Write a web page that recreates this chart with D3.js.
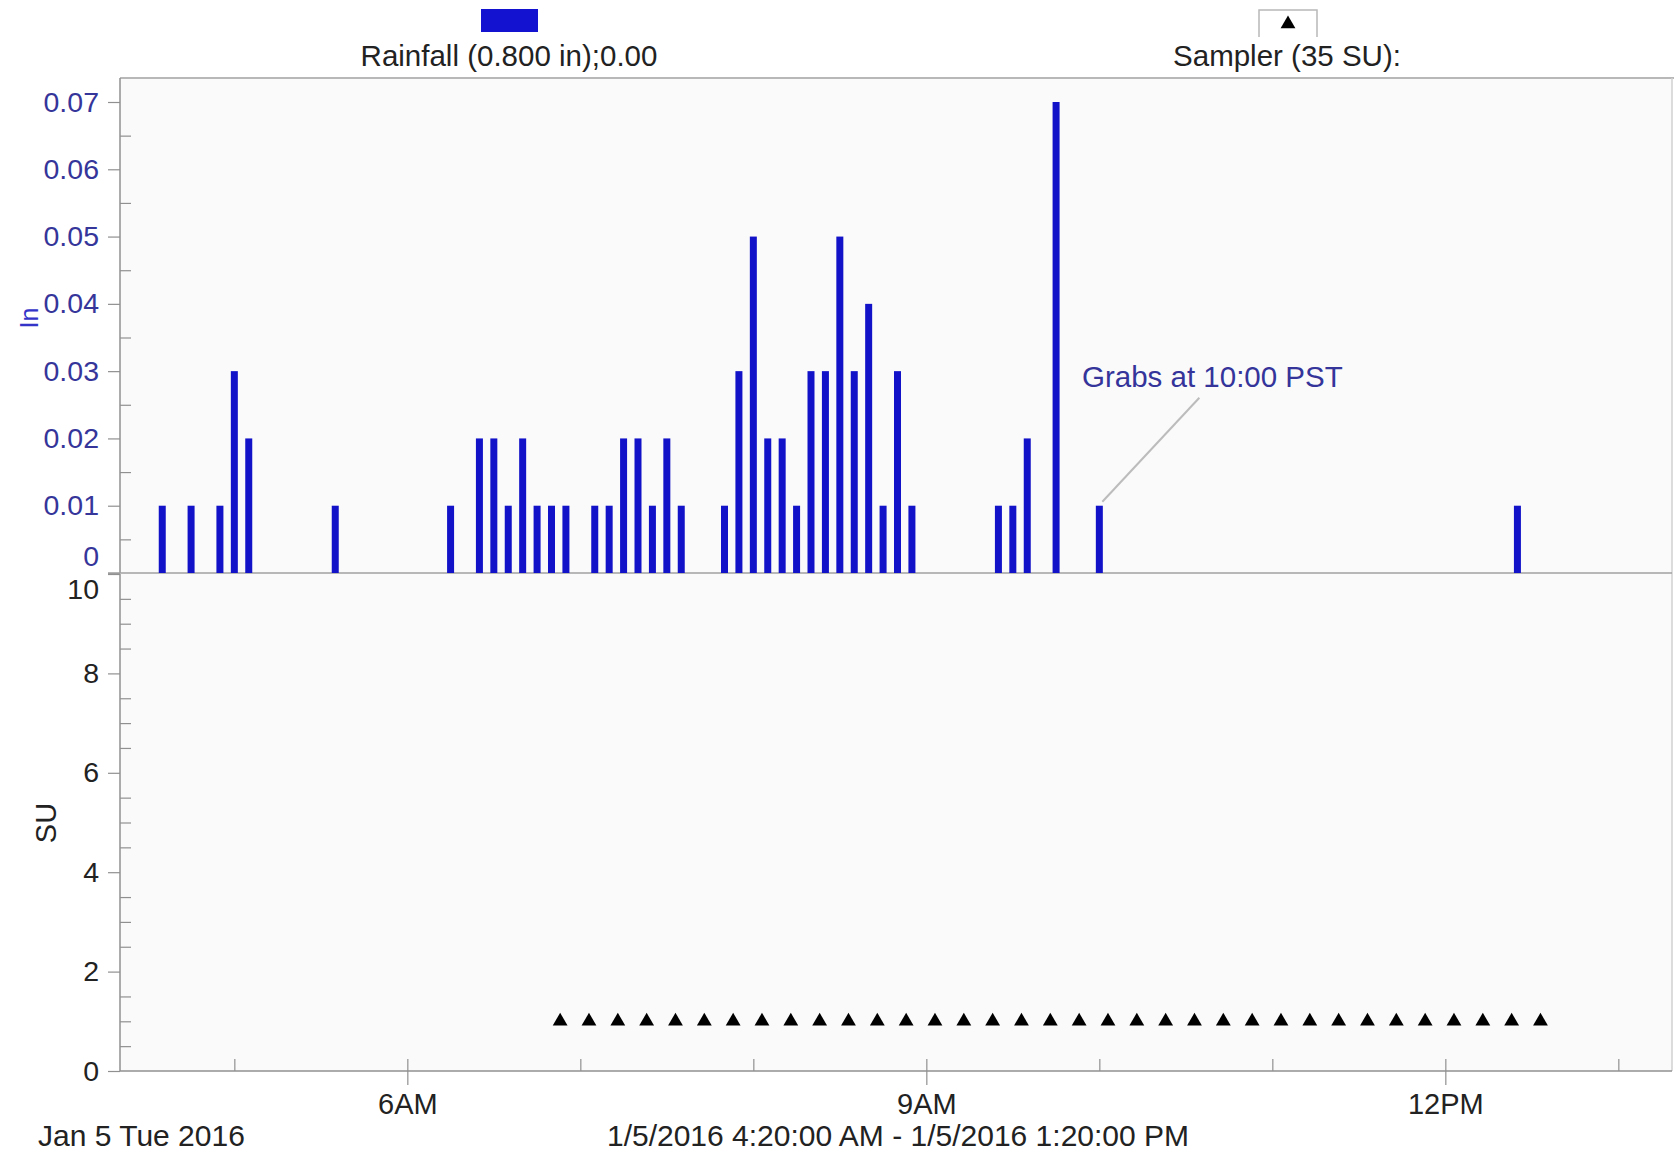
<!DOCTYPE html>
<meta charset="utf-8">
<script src="https://d3js.org/d3.v7.min.js"></script>
<style>
body { margin: 0; background: #fff; }
text { font-family: "Liberation Sans", Arial, sans-serif; }
</style>
<div id="chart"></div>
<script>
// rainfall, 5 minute totals (in)
var rainTimes = ["04:35","04:45","04:55","05:00","05:05","05:35","06:15","06:25","06:30","06:35",
  "06:40","06:45","06:50","06:55","07:05","07:10","07:15","07:20","07:25","07:30",
  "07:35","07:50","07:55","08:00","08:05","08:10","08:15","08:20","08:25","08:30",
  "08:35","08:40","08:45","08:50","08:55","09:25","09:30","09:35","09:45","10:00","12:25"];
var rainValues = [0.01,0.01,0.01,0.03,0.02,0.01,0.01,0.02,0.02,0.01,
  0.02,0.01,0.01,0.01,0.01,0.01,0.02,0.02,0.01,0.02,
  0.01,0.01,0.03,0.05,0.02,0.02,0.01,0.03,0.03,0.05,
  0.03,0.04,0.01,0.03,0.01,0.01,0.01,0.02,0.07,0.01,0.01];

// sampler events (SU)
var samplerTimes = ["06:53","07:03","07:13","07:23","07:33","07:43","07:53","08:03","08:13","08:23",
  "08:33","08:43","08:53","09:03","09:13","09:23","09:33","09:43","09:53","10:03",
  "10:13","10:23","10:33","10:43","10:53","11:03","11:13","11:23","11:33","11:43",
  "11:53","12:03","12:13","12:23","12:33"];
var samplerValues = [1,1,1,1,1,1,1,1,1,1,1,1,1,1,1,1,1,1,1,1,1,1,1,1,1,1,1,1,1,1,1,1,1,1,1];

var rainTicks = [0, 0.01, 0.02, 0.03, 0.04, 0.05, 0.06, 0.07];
var suTicks = [0, 2, 4, 6, 8, 10];
var majorTimeTicks = ["06:00", "09:00", "12:00"];
var majorTimeLabels = ["6AM", "9AM", "12PM"];
var hourTicks = ["05:00","06:00","07:00","08:00","09:00","10:00","11:00","12:00","13:00"];

var width = 1676, height = 1159;
var parse = d3.timeParse("%Y-%m-%d %H:%M");
function t(s) { return parse("2016-01-05 " + s); }

var svg = d3.select("#chart").append("svg")
  .attr("width", width)
  .attr("height", height);

var plotLeft = 120, plotRight = 1672, plotTop = 78;

var x = d3.scaleTime()
  .domain([t("04:20"), t("13:20")])
  .range([119, 1676]);

var yRain = d3.scaleLinear().domain([0, 0.07]).range([573, 102]);
var ySU = d3.scaleLinear().domain([0, 10]).range([1071, 574]);

// plot background + frame
svg.append("rect")
  .attr("x", plotLeft).attr("y", plotTop)
  .attr("width", plotRight - plotLeft).attr("height", ySU(0) - plotTop)
  .attr("fill", "#fafafa");

svg.append("line")
  .attr("x1", plotLeft).attr("x2", plotRight + 2)
  .attr("y1", plotTop).attr("y2", plotTop)
  .attr("stroke", "#b8b8b8").attr("stroke-width", 2);
svg.append("line")
  .attr("x1", plotRight).attr("x2", plotRight)
  .attr("y1", plotTop).attr("y2", ySU(0))
  .attr("stroke", "#d0d0d0").attr("stroke-width", 1.5);

// upper axis (rain)
var gRainMinor = svg.append("g")
  .attr("transform", "translate(" + plotLeft + ",0)")
  .call(d3.axisRight(yRain).tickValues([0.005,0.015,0.025,0.035,0.045,0.055,0.065]).tickSize(11).tickFormat(""));
var gRain = svg.append("g")
  .attr("transform", "translate(" + plotLeft + ",0)")
  .call(d3.axisLeft(yRain).tickValues(rainTicks).tickSize(12).tickPadding(9)
    .tickFormat(function(d) { return d === 0 ? "0" : d3.format(".2f")(d); }));
gRain.selectAll("text")
  .attr("fill", "#35359a")
  .style("font-size", "28.5px")
  .attr("dy", function(d) { return d === 0 ? "-0.26em" : "0.32em"; });

// lower axis (SU)
var gSUMinor = svg.append("g")
  .attr("transform", "translate(" + plotLeft + ",0)")
  .call(d3.axisRight(ySU).tickValues([0.5,1,1.5,2.5,3,3.5,4.5,5,5.5,6.5,7,7.5,8.5,9,9.5]).tickSize(11).tickFormat(""));
var gSU = svg.append("g")
  .attr("transform", "translate(" + plotLeft + ",0)")
  .call(d3.axisLeft(ySU).tickValues(suTicks).tickSize(12).tickPadding(9));
gSU.selectAll("text")
  .attr("fill", "#222")
  .style("font-size", "28.5px")
  .attr("dy", function(d) { return d === 10 ? "0.86em" : "0.32em"; });

// x axis
var gHour = svg.append("g")
  .attr("transform", "translate(0," + ySU(0) + ")")
  .call(d3.axisTop(x).tickValues(hourTicks.map(t)).tickSize(12).tickFormat(""));
var gX = svg.append("g")
  .attr("transform", "translate(0," + ySU(0) + ")")
  .call(d3.axisBottom(x).tickValues(majorTimeTicks.map(t)).tickSize(14).tickPadding(8)
    .tickFormat(function(d, i) { return majorTimeLabels[i]; }));
gX.selectAll("text").attr("fill", "#222").style("font-size", "29px");
gX.select(".domain").attr("d", "M" + plotLeft + ",0H" + plotRight);

svg.selectAll(".domain").attr("stroke", "#909090").attr("stroke-width", 1.5);
svg.selectAll(".tick line").attr("stroke", "#909090").attr("stroke-width", 1.2);
gRain.select(".domain").attr("d", "M0," + plotTop + "V" + yRain(0));
gSU.select(".domain").attr("d", "M0," + ySU(10) + "V" + ySU(0));
gRainMinor.select(".domain").remove();
gSUMinor.select(".domain").remove();
gHour.select(".domain").remove();

// panel divider
svg.append("line")
  .attr("x1", 108).attr("x2", plotRight)
  .attr("y1", yRain(0)).attr("y2", yRain(0))
  .attr("stroke", "#a0a0a0").attr("stroke-width", 1.5);

// rainfall bars
var rain = rainTimes.map(function(d, i) { return { time: t(d), value: rainValues[i] }; });
svg.selectAll(".bar")
  .data(rain)
  .enter().append("rect")
  .attr("class", "bar")
  .attr("x", function(d) { return x(d.time) - 3.5; })
  .attr("width", 7)
  .attr("y", function(d) { return yRain(d.value); })
  .attr("height", function(d) { return yRain(0) - yRain(d.value); })
  .attr("fill", "#1212c8");

// sampler triangles
var sampler = samplerTimes.map(function(d, i) { return { time: t(d), value: samplerValues[i] }; });
var tri = d3.symbol().type(d3.symbolTriangle).size(95);
svg.selectAll(".samp")
  .data(sampler)
  .enter().append("path")
  .attr("class", "samp")
  .attr("transform", function(d) { return "translate(" + x(d.time) + "," + ySU(d.value) + ")"; })
  .attr("d", tri)
  .attr("fill", "#000");

// annotation
var grab = rain[rainTimes.indexOf("10:00")];
svg.append("line")
  .attr("x1", x(grab.time) + 3).attr("y1", yRain(grab.value) - 4)
  .attr("x2", x(grab.time) + 100).attr("y2", yRain(grab.value) - 108)
  .attr("stroke", "#bcbcbc").attr("stroke-width", 2);
svg.append("text")
  .attr("x", 1082).attr("y", 387)
  .attr("fill", "#34349a")
  .style("font-size", "29.5px")
  .text("Grabs at 10:00 PST");

// axis titles
svg.append("text")
  .attr("transform", "translate(38,318) rotate(-90)")
  .attr("text-anchor", "middle")
  .attr("fill", "#3434c8")
  .style("font-size", "25px")
  .text("In");
svg.append("text")
  .attr("transform", "translate(56,823) rotate(-90)")
  .attr("text-anchor", "middle")
  .attr("fill", "#222")
  .style("font-size", "29px")
  .text("SU");

// legend
svg.append("rect")
  .attr("x", 481).attr("y", 9).attr("width", 57).attr("height", 23)
  .attr("fill", "#1212d0");
svg.append("text")
  .attr("x", 509).attr("y", 66)
  .attr("text-anchor", "middle")
  .attr("fill", "#222")
  .style("font-size", "29.5px")
  .text("Rainfall (0.800 in);0.00");

svg.append("path")
  .attr("d", "M1259,37V10H1317V37")
  .attr("fill", "none")
  .attr("stroke", "#b8b8b8").attr("stroke-width", 1.5);
svg.append("path")
  .attr("transform", "translate(1288,24)")
  .attr("d", tri)
  .attr("fill", "#000");
svg.append("text")
  .attr("x", 1287).attr("y", 66)
  .attr("text-anchor", "middle")
  .attr("fill", "#222")
  .style("font-size", "29.5px")
  .text("Sampler (35 SU):");

// footer
svg.append("text")
  .attr("x", 38).attr("y", 1146)
  .attr("fill", "#222")
  .style("font-size", "30px")
  .text("Jan 5 Tue 2016");
svg.append("text")
  .attr("x", 898).attr("y", 1146)
  .attr("text-anchor", "middle")
  .attr("fill", "#222")
  .style("font-size", "30px")
  .text("1/5/2016 4:20:00 AM - 1/5/2016 1:20:00 PM");
</script>
